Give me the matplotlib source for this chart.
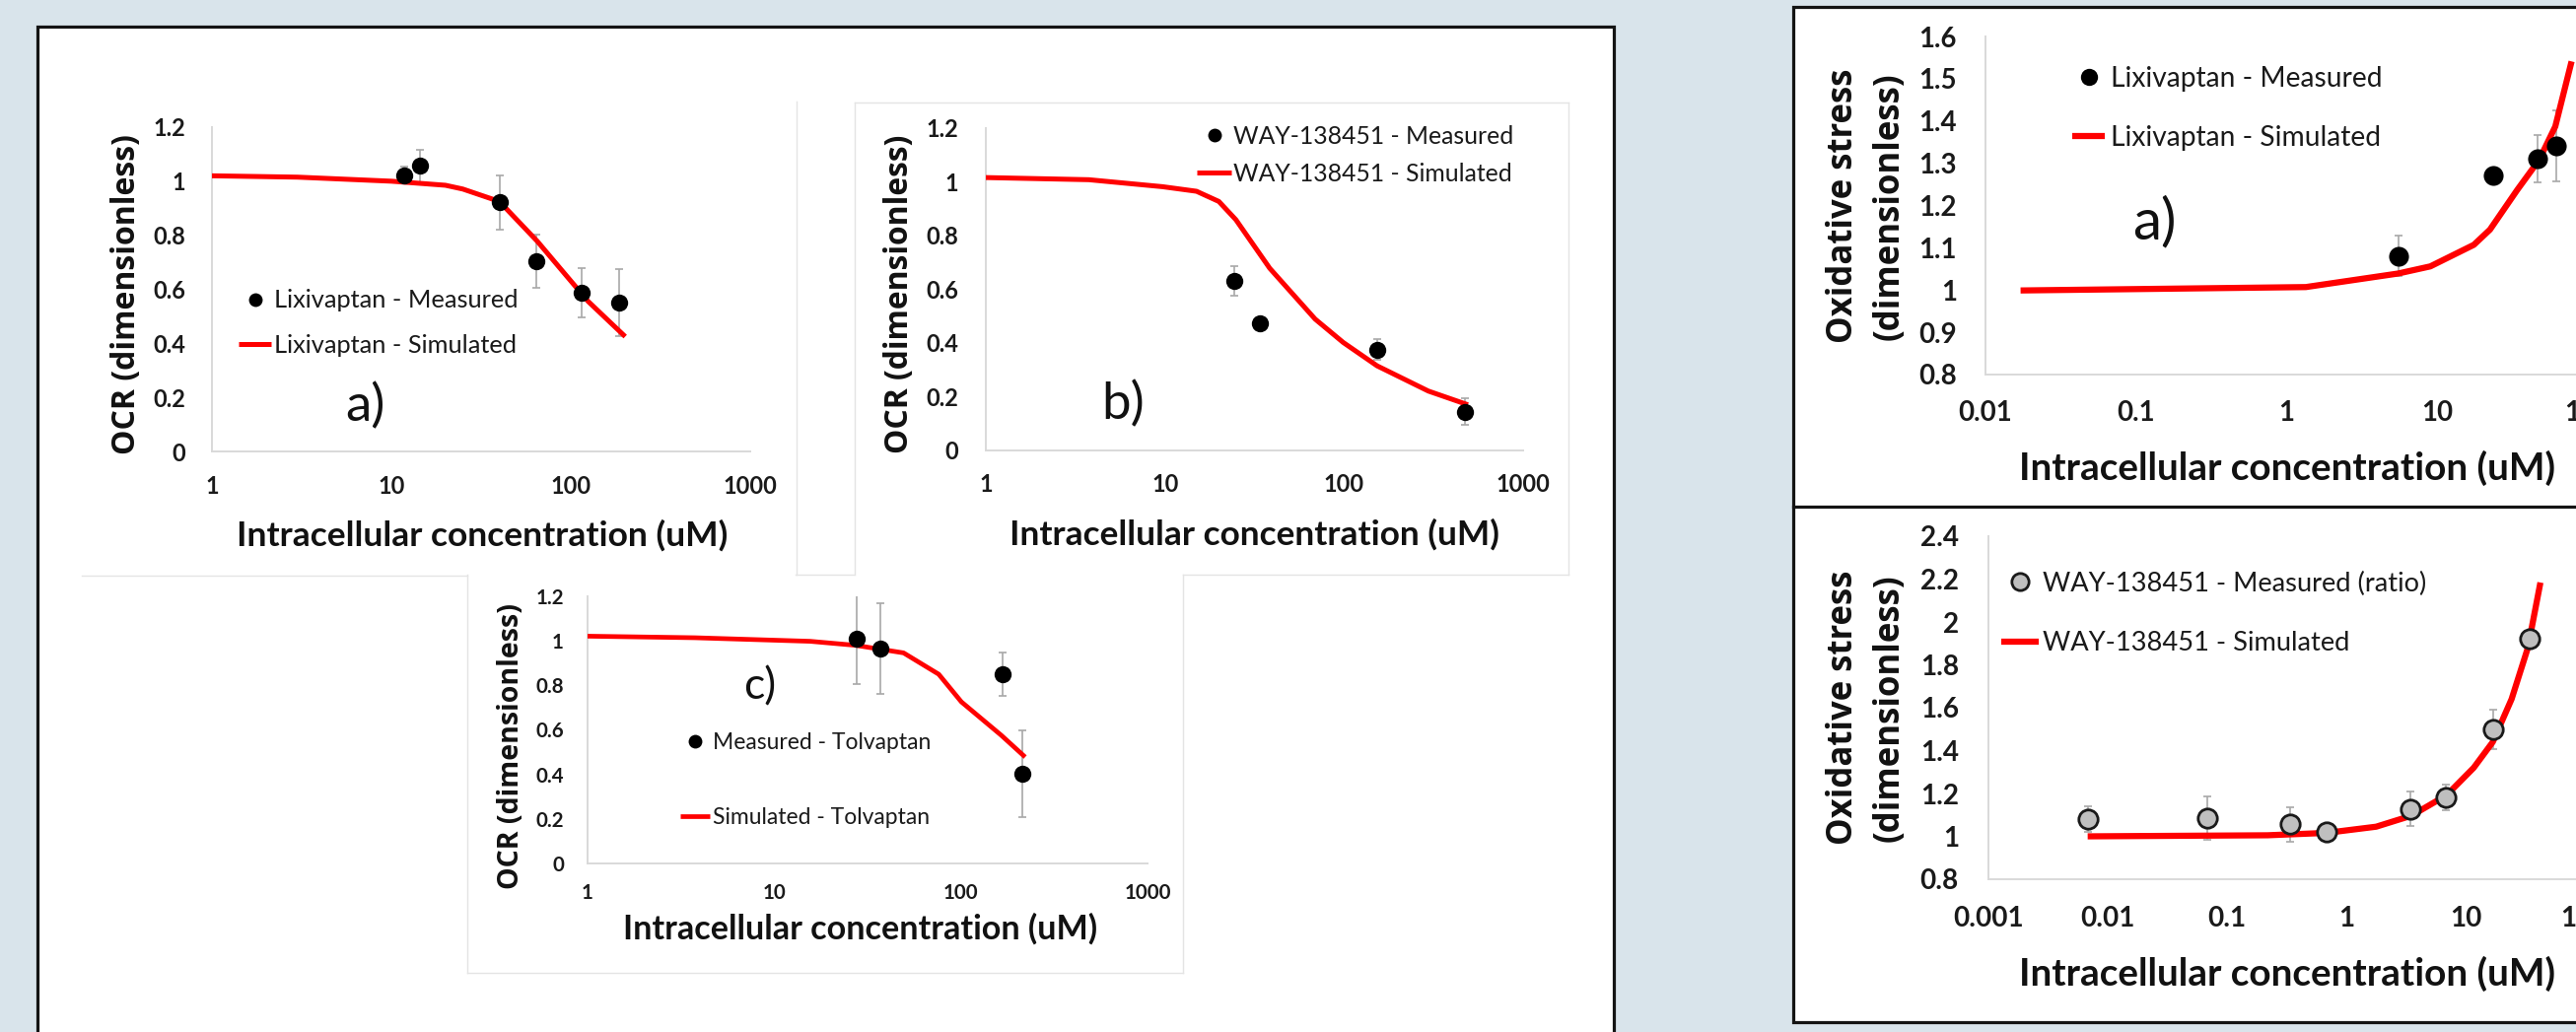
import matplotlib
matplotlib.use('Agg')
import matplotlib.pyplot as plt
from matplotlib.lines import Line2D
from matplotlib.patches import Rectangle
from matplotlib.ticker import NullLocator

# ---------------- data ----------------
# a) Lixivaptan OCR
a_meas_x = [11.8, 14.5, 40.3, 64.2, 114.8, 186.7]
a_meas_y = [1.023, 1.057, 0.922, 0.704, 0.587, 0.550]
a_meas_err = [0.03, 0.06, 0.10, 0.10, 0.09, 0.125]
a_sim_x = [1, 3, 10, 20, 25, 40, 65, 94, 125, 201]
a_sim_y = [1.02, 1.015, 1.0, 0.985, 0.971, 0.925, 0.778, 0.652, 0.555, 0.425]

# b) WAY-138451 OCR
b_meas_x = [24.5, 33.8, 153.6, 474.5]
b_meas_y = [0.631, 0.474, 0.376, 0.144]
b_meas_err = [0.055, 0.015, 0.04, 0.05]
b_sim_x = [1, 3.76, 9.7, 15, 20, 24.9, 38.5, 69, 99, 153, 296, 492]
b_sim_y = [1.016, 1.008, 0.982, 0.965, 0.927, 0.859, 0.678, 0.489, 0.402, 0.315, 0.221, 0.170]

# c) Tolvaptan OCR
c_meas_x = [27.7, 37.0, 167.4, 213.3]
c_meas_y = [1.008, 0.966, 0.850, 0.403]
c_meas_err = [0.20, 0.205, 0.097, 0.195]
c_sim_x = [1, 3.75, 15.6, 27.3, 49.3, 76.1, 100.6, 165, 221]
c_sim_y = [1.021, 1.014, 0.998, 0.98, 0.946, 0.850, 0.726, 0.575, 0.478]

# right top: Lixivaptan oxidative stress
rt_meas_x = [5.57, 23.6, 46.2, 61.3]
rt_meas_y = [1.081, 1.271, 1.310, 1.341]
rt_meas_err = [0.048, 0.01, 0.056, 0.085]
rt_sim_x = [0.0171, 1.34, 5.48, 9.0, 17.5, 22.4, 34, 47.5, 60.8, 78]
rt_sim_y = [0.999, 1.007, 1.039, 1.056, 1.107, 1.143, 1.237, 1.308, 1.387, 1.541]

# right bottom: WAY-138451 oxidative stress
rb_meas_x = [0.00679, 0.0679, 0.340, 0.679, 3.44, 6.79, 16.9, 34.4]
rb_meas_y = [1.08, 1.085, 1.056, 1.019, 1.128, 1.181, 1.499, 1.92]
rb_meas_err = [0.06, 0.10, 0.08, 0.01, 0.08, 0.06, 0.09, 0.01]
rb_sim_x = [0.00679, 0.219, 0.679, 1.78, 3.5, 6.93, 11.7, 16.9, 24.3, 33.3, 42.4]
rb_sim_y = [1.0, 1.005, 1.016, 1.045, 1.096, 1.192, 1.32, 1.44, 1.64, 1.88, 2.184]

ocr_yticks = [0, 0.2, 0.4, 0.6, 0.8, 1.0, 1.2]
ocr_ylabels = ["0", "0.2", "0.4", "0.6", "0.8", "1", "1.2"]
ocr_xticks = [1, 10, 100, 1000]
ocr_xlabels = ["1", "10", "100", "1000"]
rt_yticks = [0.8, 0.9, 1.0, 1.1, 1.2, 1.3, 1.4, 1.5, 1.6]
rt_ylabels = ["0.8", "0.9", "1", "1.1", "1.2", "1.3", "1.4", "1.5", "1.6"]
rt_xticks = [0.01, 0.1, 1, 10, 100]
rt_xlabels = ["0.01", "0.1", "1", "10", "100"]
rb_yticks = [0.8, 1.0, 1.2, 1.4, 1.6, 1.8, 2.0, 2.2, 2.4]
rb_ylabels = ["0.8", "1", "1.2", "1.4", "1.6", "1.8", "2", "2.2", "2.4"]
rb_xticks = [0.001, 0.01, 0.1, 1, 10, 100]
rb_xlabels = ["0.001", "0.01", "0.1", "1", "10", "100"]

XLABEL = "Intracellular concentration (uM)"

# ---------------- figure ----------------
W, H = 2613, 1047
DPI = 100
PT = 72.0 / DPI
fig = plt.figure(figsize=(W / DPI, H / DPI), dpi=DPI)
fig.patch.set_facecolor('#d9e4eb')
renderer = fig.canvas.get_renderer()

CAL = 'Lato'
VER = 'Open Sans'


def fx(x):
    return x / W


def fy(y):
    return 1 - y / H


def measure(s, size, family, weight='normal'):
    t = fig.text(0, 0, s, fontsize=size, family=family, weight=weight)
    bb = t.get_window_extent(renderer)
    t.remove()
    return bb.width, bb.height


def fit(s, target_px, family, weight='normal'):
    w, _ = measure(s, 20, family, weight)
    return 20.0 * target_px / w


# frames
fig.add_artist(Rectangle((fx(38), fy(1120)), (1637 - 38) / W, (1120 - 27) / H,
                         transform=fig.transFigure, facecolor='white',
                         edgecolor='#141414', lw=2.3, zorder=-5))
fig.add_artist(Rectangle((fx(1819), fy(1037)), (2720 - 1819) / W, (1037 - 7) / H,
                         transform=fig.transFigure, facecolor='white',
                         edgecolor='#141414', lw=2.3, zorder=-5))
fig.add_artist(Line2D([fx(1819), fx(2720)], [fy(514), fy(514)],
                      transform=fig.transFigure, color='#141414', lw=2.3, zorder=-4))

# faint chart-object borders (Excel)
faint = [((83, 584), (474, 584)), ((1200, 583), (1591, 583)), ((807, 583), (866, 583)),
         ((808, 103), (808, 583)), ((867, 104), (867, 583)), ((867, 104), (1591, 104)),
         ((1591, 104), (1591, 583)), ((474, 583), (474, 987)), ((1200, 583), (1200, 987)),
         ((474, 987), (1200, 987))]
for (x0, y0), (x1, y1) in faint:
    fig.add_artist(Line2D([fx(x0), fx(x1)], [fy(y0), fy(y1)], transform=fig.transFigure,
                          color='#e4e4e4', lw=1.0, zorder=-3))


def make_axes(x0, y0, x1, y1):
    ax = fig.add_axes([fx(x0), fy(y1), (x1 - x0) / W, (y1 - y0) / H])
    ax.set_facecolor('none')
    return ax


def style(ax, xlim, ylim, xt, xtl, yt, ytl, tick_fs, xcenter_off, ypad_px):
    ax.set_xscale('log')
    ax.set_xlim(*xlim)
    ax.set_ylim(*ylim)
    ax.set_xticks(xt, xtl)
    ax.set_yticks(yt, ytl)
    ax.xaxis.set_minor_locator(NullLocator())
    for s in ['top', 'right']:
        ax.spines[s].set_visible(False)
    for s in ['left', 'bottom']:
        ax.spines[s].set_color('#d9d9d9')
        ax.spines[s].set_linewidth(1.4)
    fs_px = tick_fs / PT
    ax.tick_params(axis='x', length=0, labelsize=tick_fs, pad=(xcenter_off - 0.58 * fs_px) * PT)
    ax.tick_params(axis='y', length=0, labelsize=tick_fs, pad=ypad_px * PT)
    for lb in ax.get_xticklabels() + ax.get_yticklabels():
        lb.set_family(CAL)
        lb.set_weight('bold')
        lb.set_color('#1a1a1a')


def labels(ax, ylab, ylen, ycx, ycy, xcx, xcy, xlen, two_line=False, line_gap=None):
    xfs = fit(XLABEL, xlen, CAL, 'bold')
    ax.set_xlabel(XLABEL, fontsize=xfs, family=CAL, weight='bold', color='#111111')
    ax.xaxis.set_label_coords(fx(xcx), fy(xcy), transform=fig.transFigure)
    ax.xaxis.label.set_va('center')
    first = ylab.split('\n')[0]
    yfs = fit(first, ylen, VER, 'bold')
    ax.set_ylabel(ylab, fontsize=yfs, family=VER, weight='bold', color='#111111')
    if two_line:
        _, hlp = measure('lp', yfs, VER, 'bold')
        ax.yaxis.label.set_linespacing(line_gap / hlp)
        ax.yaxis.label.set_multialignment('center')
    ax.yaxis.set_label_coords(fx(ycx), fy(ycy), transform=fig.transFigure)
    ax.yaxis.label.set_va('center')
    ax.yaxis.label.set_ha('center')


def draw(ax, mx, my, merr, sx, sy, msize, lw, mface='black', medge='black', mew=0.0):
    ax.errorbar(mx, my, yerr=merr, fmt='none', ecolor='#a8a8a8', elinewidth=1.2,
                capsize=3, capthick=1.2, zorder=2)
    ax.plot(sx, sy, color='#ff0000', lw=lw, solid_capstyle='butt', zorder=3)
    ax.plot(mx, my, ls='none', marker='o', markersize=msize, markerfacecolor=mface,
            markeredgecolor=medge, markeredgewidth=mew, zorder=4)


def legend(ax, lab1, lab2, width1_px, row1_y, row2_y, hx0, hx1, tx0, msize, lw,
           mface='black', medge='black', mew=0.0, measure_label=None):
    ref = measure_label if measure_label else lab1
    fs = fit(ref, width1_px, CAL)
    fs_px = fs / PT
    _, th = measure(lab1, fs, CAL)
    dy = row2_y - row1_y
    h1 = Line2D([], [], ls='none', marker='o', markersize=msize, markerfacecolor=mface,
                markeredgecolor=medge, markeredgewidth=mew)
    h2 = Line2D([], [], color='#ff0000', lw=lw, solid_capstyle='butt')
    leg = ax.legend([h1, h2], [lab1, lab2], loc='center left',
                    bbox_to_anchor=(fx(hx0), fy((row1_y + row2_y) / 2)),
                    bbox_transform=fig.transFigure, frameon=False, borderpad=0,
                    borderaxespad=0, handlelength=(hx1 - hx0) / fs_px,
                    handletextpad=(tx0 - hx1) / fs_px,
                    labelspacing=(dy - th) / fs_px,
                    prop={'family': CAL, 'size': fs})
    for t in leg.get_texts():
        t.set_color('#1a1a1a')
    return leg


def letter(s, cx, cy, size):
    fig.text(fx(cx), fy(cy), s, fontsize=size, family=CAL, ha='center', va='center',
             color='#111111')


# ---------- panel a ----------
ax_a = make_axes(215, 129, 761, 458)
style(ax_a, (1, 1000), (0, 1.2), ocr_xticks, ocr_xlabels, ocr_yticks, ocr_ylabels,
      fit("1000", 55, CAL, 'bold'), 38, 27)
draw(ax_a, a_meas_x, a_meas_y, a_meas_err, a_sim_x, a_sim_y, 12.5, 3.6)
labels(ax_a, "OCR (dimensionless)", 325, 128, 299, 489, 543, 498)
legend(ax_a, "Lixivaptan - Measured", "Lixivaptan - Simulated", 248, 305, 350,
       242, 275, 278, 10, 3.6)
letter("a)", 370, 412, 38)

# ---------- panel b ----------
ax_b = make_axes(1000, 130, 1545, 457)
style(ax_b, (1, 1000), (0, 1.2), ocr_xticks, ocr_xlabels, ocr_yticks, ocr_ylabels,
      fit("1000", 55, CAL, 'bold'), 37, 28)
draw(ax_b, b_meas_x, b_meas_y, b_meas_err, b_sim_x, b_sim_y, 12.5, 3.6)
labels(ax_b, "OCR (dimensionless)", 324, 912, 298, 1272, 542, 496)
legend(ax_b, "WAY-138451 - Measured", "WAY-138451 - Simulated", 284, 138, 176,
       1214, 1249, 1251, 10, 3.6)
letter("b)", 1139, 410, 38)

# ---------- panel c ----------
ax_c = make_axes(596, 605, 1164, 876)
style(ax_c, (1, 1000), (0, 1.2), ocr_xticks, ocr_xlabels, ocr_yticks, ocr_ylabels,
      fit("1000", 48, CAL, 'bold'), 32, 24)
draw(ax_c, c_meas_x, c_meas_y, c_meas_err, c_sim_x, c_sim_y, 12.5, 3.4)
labels(ax_c, "OCR (dimensionless)", 290, 519, 757, 873, 942, 480)
legend(ax_c, "Measured - Tolvaptan", "Simulated - Tolvaptan", 222, 754, 830,
       690, 720, 723, 10, 3.4)
letter("c)", 771, 697, 32)

# ---------- right top ----------
ax_rt = make_axes(2014, 37, 2625, 380)
style(ax_rt, (0.01, 100), (0.8, 1.6), rt_xticks, rt_xlabels, rt_yticks, rt_ylabels,
      fit("0.01", 55, CAL, 'bold'), 42, 29)
draw(ax_rt, rt_meas_x, rt_meas_y, rt_meas_err, rt_sim_x, rt_sim_y, 14.5, 4.5)
labels(ax_rt, "Oxidative stress\n(dimensionless)", 279, 1893, 209, 2320, 475, 545,
       two_line=True, line_gap=50)
legend(ax_rt, "Lixivaptan - Measured", "Lixivaptan - Simulated", 275, 80, 140,
       2102, 2135, 2141, 12.5, 4.5)
letter("a)", 2185, 226, 42)

# ---------- right bottom ----------
ax_rb = make_axes(2017, 544, 2622, 892)
style(ax_rb, (0.001, 100), (0.8, 2.4), rb_xticks, rb_xlabels, rb_yticks, rb_ylabels,
      fit("0.001", 72, CAL, 'bold'), 43, 30)
draw(ax_rb, rb_meas_x, rb_meas_y, rb_meas_err, rb_sim_x, rb_sim_y, 14, 4.5,
     mface='#bfbfbf', medge='#1a1a1a', mew=2.0)
labels(ax_rb, "Oxidative stress\n(dimensionless)", 279, 1893, 718, 2320, 988, 545,
       two_line=True, line_gap=50)
legend(ax_rb, "WAY-138451 - Measured (ratio)", "WAY-138451 - Simulated", 311, 592, 653,
       2030, 2068, 2072, 12.5, 4.5, mface='#bfbfbf', medge='#1a1a1a', mew=2.0,
       measure_label="WAY-138451 - Simulated")

fig.savefig('out.png', dpi=DPI, facecolor=fig.get_facecolor())
